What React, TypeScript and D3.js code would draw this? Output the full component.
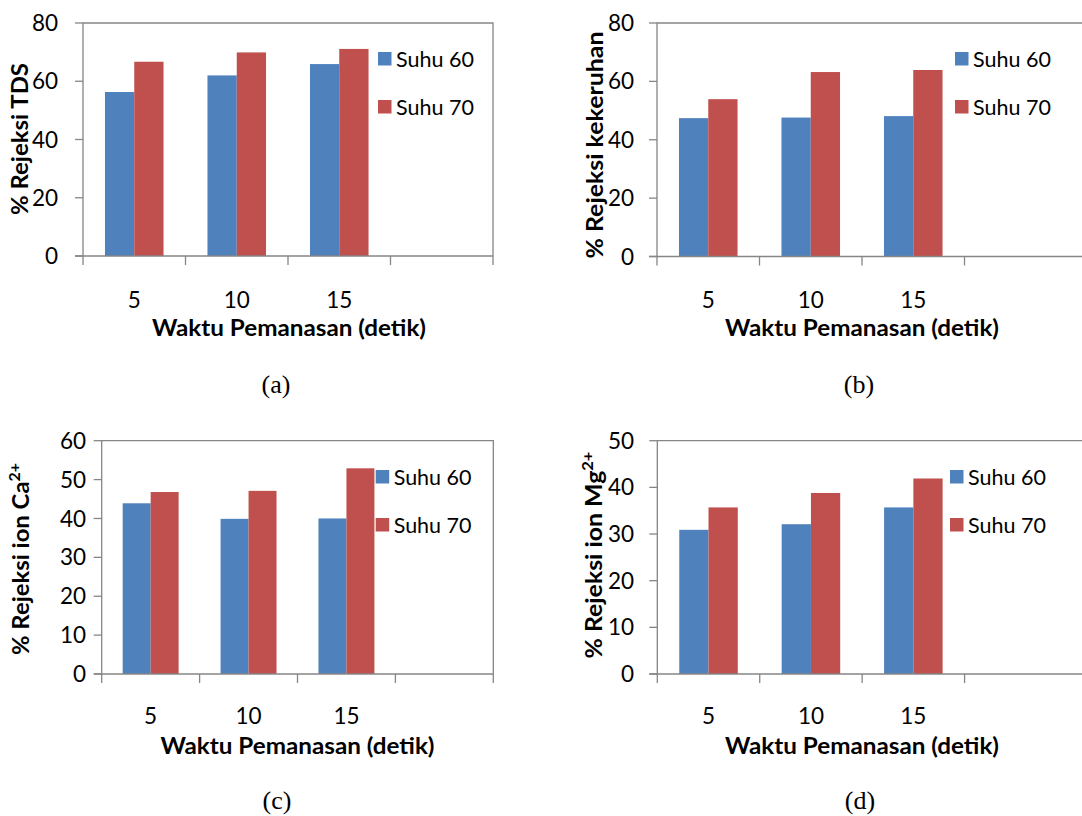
import React from "react";
import * as d3 from "d3";

const categories = ["5", "10", "15", ""];
const seriesNames = ["Suhu 60", "Suhu 70"];
const seriesColors = ["#4F81BD", "#C0504D"];

const tdsSuhu60 = [56.3, 62.0, 65.9];
const tdsSuhu70 = [66.7, 69.9, 71.1];
const kekeruhanSuhu60 = [47.4, 47.6, 48.1];
const kekeruhanSuhu70 = [53.9, 63.2, 63.9];
const caSuhu60 = [43.9, 39.9, 40.0];
const caSuhu70 = [46.8, 47.1, 52.9];
const mgSuhu60 = [30.9, 32.1, 35.7];
const mgSuhu70 = [35.7, 38.8, 41.9];

const yTicksTDS = [0, 20, 40, 60, 80];
const yTicksKekeruhan = [0, 20, 40, 60, 80];
const yTicksCa = [0, 10, 20, 30, 40, 50, 60];
const yTicksMg = [0, 10, 20, 30, 40, 50];

const xTitle = "Waktu Pemanasan (detik)";

type Panel = {
  s60: number[];
  s70: number[];
  yTicks: number[];
  yLabel: string;
  sup?: string;
  caption: string;
  left: number;
  right: number;
  top: number;
  bottom: number;
  clipRight: boolean;
  tickLabelRight: number;
  yLabelX: number;
  yLabelY: number;
  yLabelLen: number;
  legX: number;
  legY: number;
  catY: number;
  titleX: number;
  titleY: number;
  captionX: number;
  captionBase: number;
};

const panels: Panel[] = [
  {
    s60: tdsSuhu60, s70: tdsSuhu70, yTicks: yTicksTDS, yLabel: "% Rejeksi TDS", caption: "(a)",
    left: 83, right: 493, top: 23, bottom: 256, clipRight: false, tickLabelRight: 58,
    yLabelX: 20, yLabelY: 139, yLabelLen: 152, legX: 378, legY: 52,
    catY: 300, titleX: 289, titleY: 328, captionX: 276, captionBase: 393,
  },
  {
    s60: kekeruhanSuhu60, s70: kekeruhanSuhu70, yTicks: yTicksKekeruhan, yLabel: "% Rejeksi kekeruhan", caption: "(b)",
    left: 657, right: 1067, top: 23, bottom: 256.5, clipRight: true, tickLabelRight: 634,
    yLabelX: 595, yLabelY: 145, yLabelLen: 227, legX: 955, legY: 52,
    catY: 300, titleX: 862, titleY: 328, captionX: 859, captionBase: 393,
  },
  {
    s60: caSuhu60, s70: caSuhu70, yTicks: yTicksCa, yLabel: "% Rejeksi ion Ca", sup: "2+", caption: "(c)",
    left: 101.7, right: 493.3, top: 440.7, bottom: 674, clipRight: false, tickLabelRight: 86,
    yLabelX: 21, yLabelY: 559, yLabelLen: 192, legX: 375.7, legY: 470,
    catY: 716, titleX: 297.5, titleY: 746, captionX: 277, captionBase: 809,
  },
  {
    s60: mgSuhu60, s70: mgSuhu70, yTicks: yTicksMg, yLabel: "% Rejeksi ion Mg", sup: "2+", caption: "(d)",
    left: 657.3, right: 1067, top: 440.7, bottom: 674, clipRight: true, tickLabelRight: 634,
    yLabelX: 594, yLabelY: 555, yLabelLen: 207, legX: 950, legY: 470,
    catY: 716, titleX: 862, titleY: 746, captionX: 860, captionBase: 809,
  },
];

const AXIS = "#868686";
const SANS = "Lato, 'Open Sans', sans-serif";

function ChartPanel({ p }: { p: Panel }) {
  const x = d3.scaleBand<string>().domain(categories.map((c, i) => String(i))).range([p.left, p.right]).padding(0);
  const inner = d3.scaleBand<string>().domain(seriesNames).range([0, x.bandwidth()]).paddingInner(0).paddingOuter(0.75);
  const yMax = p.yTicks[p.yTicks.length - 1];
  const y = d3.scaleLinear().domain([0, yMax]).range([p.bottom, p.top]);
  const series = [p.s60, p.s70];
  const frameRight = p.clipRight ? 1100 : p.right;
  const boundaries = categories.map((_, i) => x(String(i))!);
  if (!p.clipRight) boundaries.push(p.right);

  return (
    <g>
      {series.map((vals, si) =>
        vals.map((v, ci) => (
          <rect
            key={`${si}-${ci}`}
            x={x(String(ci))! + inner(seriesNames[si])!}
            y={y(v)}
            width={inner.bandwidth()}
            height={p.bottom - y(v)}
            fill={seriesColors[si]}
          />
        ))
      )}
      <path
        d={`M${p.left},${p.bottom} L${p.left},${p.top} L${frameRight},${p.top}` + (p.clipRight ? "" : ` L${frameRight},${p.bottom}`)}
        fill="none"
        stroke={AXIS}
        strokeWidth={1.3}
      />
      <line x1={p.left - 8} x2={frameRight} y1={p.bottom} y2={p.bottom} stroke={AXIS} strokeWidth={1.3} />
      {p.yTicks.map((t) => (
        <g key={t}>
          <line x1={p.left - 8} x2={p.left} y1={y(t)} y2={y(t)} stroke={AXIS} strokeWidth={1.3} />
          <text x={p.tickLabelRight} y={y(t)} dy="0.36em" textAnchor="end" fontFamily={SANS} fontSize={22.5} fill="#000">
            {t}
          </text>
        </g>
      ))}
      {boundaries.map((bx, i) => (
        <line key={i} x1={bx} x2={bx} y1={p.bottom} y2={p.bottom + 9} stroke={AXIS} strokeWidth={1.3} />
      ))}
      {categories.map((c, i) =>
        c ? (
          <text key={c} x={x(String(i))! + x.bandwidth() / 2} y={p.catY} dy="0.36em" textAnchor="middle" fontFamily={SANS} fontSize={22.5} fill="#000">
            {c}
          </text>
        ) : null
      )}
      <text x={p.titleX} y={p.titleY} dy="0.36em" textAnchor="middle" fontFamily={SANS} fontWeight="bold" fontSize={22.5} fill="#000" textLength={274} lengthAdjust="spacingAndGlyphs">
        {xTitle}
      </text>
      <text
        transform={`translate(${p.yLabelX},${p.yLabelY}) rotate(-90)`}
        dy="0.36em"
        textAnchor="middle"
        fontFamily={SANS}
        fontWeight="bold"
        fontSize={22.5}
        fill="#000"
        textLength={p.yLabelLen}
        lengthAdjust="spacingAndGlyphs"
      >
        {p.yLabel}
        {p.sup ? (
          <tspan fontSize={15} dy="-0.6em">{p.sup}</tspan>
        ) : null}
      </text>
      {seriesNames.map((s, i) => (
        <g key={s}>
          <rect x={p.legX} y={p.legY + i * 48} width={13.5} height={13.5} fill={seriesColors[i]} />
          <text x={p.legX + 18} y={p.legY + i * 48 + 7} dy="0.36em" fontFamily={SANS} fontSize={21.5} fill="#000">
            {s}
          </text>
        </g>
      ))}
      <text x={p.captionX} y={p.captionBase} textAnchor="middle" fontFamily="'Liberation Serif', 'Times New Roman', serif" fontSize={26} fill="#000">
        {p.caption}
      </text>
    </g>
  );
}

export default function App() {
  return (
    <svg width={1082} height={816} style={{ position: "absolute", left: 0, top: 0, background: "#fff" }}>
      <rect width={1082} height={816} fill="#fff" />
      {panels.map((p) => (
        <ChartPanel key={p.caption} p={p} />
      ))}
    </svg>
  );
}
